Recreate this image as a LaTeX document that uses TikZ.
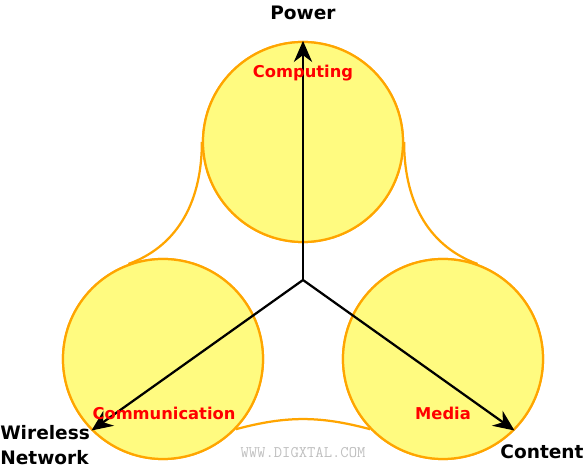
\documentclass[tikz,border=0pt]{standalone}
\usepackage{fontspec}
\setmainfont{DejaVu Sans}
\usepackage{tikz}
\usetikzlibrary{shapes.geometric, arrows, arrows.meta}
\definecolor{rimorange}{RGB}{255,165,0}
\definecolor{softyellow}{RGB}{255,251,128}
\tikzstyle{bubble} = [circle, minimum size=5cm, inner sep=0pt, draw=rimorange, fill=softyellow, line width=1.6pt]
\tikzstyle{rim} = [draw=rimorange, line width=1.6pt]
\tikzstyle{pointer} = [line width=1.6pt,-{Stealth[length=15pt,width=13pt]}]
\tikzstyle{tag} = [font=\fontsize{13.2}{17.8}\selectfont\bfseries, text=black, align=left, inner sep=0pt]
\tikzstyle{field} = [font=\fontsize{11.6}{13}\selectfont\bfseries, text=red, inner sep=0pt]

\begin{document}
\begin{tikzpicture}
    \useasboundingbox (-7.575,-4.75) rectangle (7.025,7.0);
    \coordinate (hub) at (0,0);
    % joining curves behind the circles
    \node (comp) [bubble] at (0,3.45) {};
    \node (comm) [bubble] at (-3.5,-1.975) {};
    \node (media) [bubble] at (3.5,-1.975) {};
    \draw [rim] (comp.180) to[out=270, in=20] (comm.110);
    \draw [rim] (comp.0) to[out=270, in=160] (media.70);
    \draw [rim] (comm.-44) to[out=15, in=165] (media.-136);
    \node [bubble] at (comp) {};
    \node [bubble] at (comm) {};
    \node [bubble] at (media) {};
    \draw [pointer] (hub) -- (comp.north);
    \draw [pointer] (hub) -- (comm.225);
    \draw [pointer] (hub) -- (media.-45);
    \node (computing) [field] at (0,5.175) {Computing};
    \node (communication) [field] at (-3.475,-3.325) {Communication};
    \node (mediatext) [field] at (3.5,-3.325) {Media};
    \node (power) [tag] at (0,6.675) {Power};
    \node (wireless) [tag, anchor=west] at (-7.575,-4.125) {Wireless\\Network};
    \node (content) [tag] at (5.975,-4.3) {Content};
    \node (mark) [font=\ttfamily\fontsize{11.5}{13}\selectfont, text=black!25] at (0,-4.325) {WWW.DIGXTAL.COM};
\end{tikzpicture}
\end{document}
